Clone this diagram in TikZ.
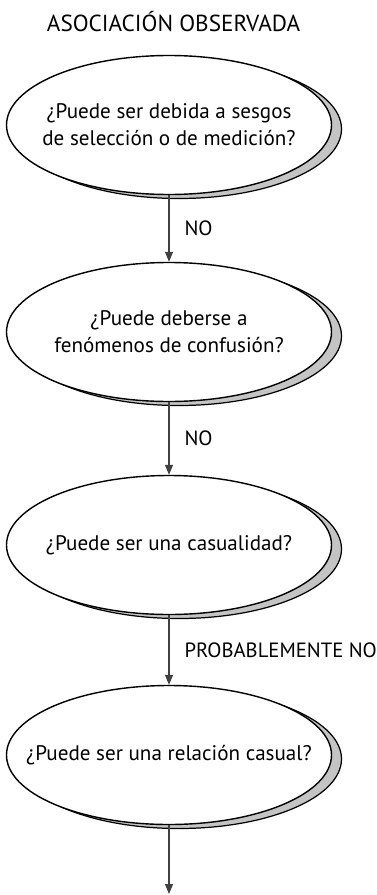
\documentclass[tikz,border=0pt]{standalone}
\usepackage{fontspec}
\setmainfont{PT Sans}
\usetikzlibrary{arrows.meta,positioning,shapes.geometric,shadows}
\definecolor{shadowGray}{HTML}{C4C4C4}
\definecolor{arrowGray}{HTML}{404040}

\begin{document}
\begin{tikzpicture}[
  font=\fontsize{12}{15.3}\selectfont,
  ask/.style={ellipse,draw=black,line width=.8pt,fill=white,minimum width=6.5cm,minimum height=2.78cm,inner xsep=-1.5cm,inner ysep=0pt,align=center,
    drop shadow={shadow xshift=.2cm,shadow yshift=-.08cm,opacity=1,fill=shadowGray,draw=black,line width=.7pt}},
  flow/.style={draw=arrowGray,line width=.6pt,-{Triangle[length=.2cm,width=.16cm]}},
  answer/.style={anchor=west,xshift=.3cm,inner sep=0pt,font=\fontsize{11.75}{13}\selectfont}
]
  \useasboundingbox (0,0) rectangle (7.54,-17.9);
  \node[font=\fontsize{13.2}{15}\selectfont] (title) at (3.47,-.44) {ASOCIACIÓN OBSERVADA};

  \node[ask] (sesgo) at (3.38,-2.5) {¿Puede ser debida a sesgos\\de selección o de medición?};
  \node[ask] (confusion) at (3.38,-6.64) {¿Puede deberse a\\fenómenos de confusión?};
  \node[ask] (azar) at (3.38,-10.9) {¿Puede ser una casualidad?};
  \node[ask] (causal) at (3.38,-15.1) {¿Puede ser una relación casual?};
  \coordinate (fin) at (3.38,-17.88);

  \draw[flow] (sesgo) -- node[answer] {NO} (confusion);
  \draw[flow] (confusion) -- node[answer] {NO} (azar);
  \draw[flow] (azar) -- node[answer] {PROBABLEMENTE NO} (causal);
  \draw[flow] (causal) -- (fin);
\end{tikzpicture}
\end{document}
